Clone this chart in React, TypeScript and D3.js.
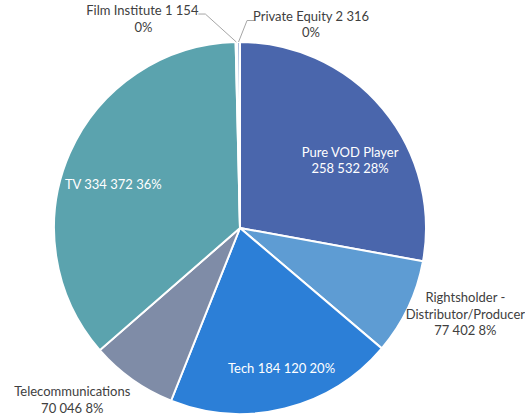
import React from 'react';
import * as d3 from 'd3';

const categories = ['Pure VOD Player', 'Rightsholder - Distributor/Producer', 'Tech', 'Telecommunications', 'TV', 'Film Institute', 'Private Equity'];
const values = [258532, 77402, 184120, 70046, 334372, 1154, 2316];
const colors = ['#4a66ac', '#5e9cd3', '#2c7fd7', '#7f8ca7', '#5ba3ae', '#a9c4e4', '#9fb3d6'];

// how each label is split into lines
const labelLines = [
  ['Pure VOD Player', '{v} {p}'],
  ['Rightsholder -', 'Distributor/Producer', '{v} {p}'],
  ['Tech {v} {p}'],
  ['Telecommunications', '{v} {p}'],
  ['TV {v} {p}'],
  ['Film Institute {v}', '{p}'],
  ['Private Equity {v}', '{p}'],
];

// label placement relative to the slice (centroid at r * R, then nudged)
const labelLayout: any[] = [
  { r: 0.68, dx: 13, dy: 10, inside: true },
  { r: 1.15, dx: 32, dy: -17, inside: false },
  { r: 0.68, dx: 11, dy: 22, inside: true },
  { r: 1.15, dx: -44, dy: -6, inside: false },
  { r: 0.68, dx: -11, dy: 12, inside: true },
  // tiny slices: placed from the rim point, with a leader line
  { r: 1, dx: -94, dy: -27, inside: false, leader: [[-31, -28], [-38, -28]], line2dx: 1 },
  { r: 1, dx: 72.5, dy: -21.5, inside: false, leader: [[8.5, -21.5], [15.5, -21.5]] },
];

const W = 525, H = 416;
const cx = 240, cy = 228, R = 186;

const fmt = (n: number) => d3.format(',')(n).replace(/,/g, ' ');

export default function App() {
  const total = d3.sum(values);
  const data = categories.map((c, i) => ({ c, v: values[i], i }));
  const pie = d3.pie<any>().sort(null).value(d => d.v).startAngle(0).endAngle(2 * Math.PI);
  const arcs = pie(data);
  const arc = d3.arc<any>().innerRadius(0).outerRadius(R);

  return (
    <svg width={W} height={H} style={{ position: 'absolute', left: 0, top: 0, fontFamily: 'Lato, sans-serif' }}>
      <rect width={W} height={H} fill="#fff" />
      <g transform={`translate(${cx},${cy})`}>
        {arcs.map((a, i) => (
          <path key={i} d={arc(a) as string} fill={colors[i]} stroke="#fff" strokeWidth={2} />
        ))}
        {arcs.map((a, i) => {
          const lay = labelLayout[i];
          const c = d3.arc<any>().innerRadius(R * lay.r).outerRadius(R * lay.r).centroid(a);
          const x = c[0] + lay.dx;
          const y = c[1] + lay.dy;
          const pct = Math.round((a.data.v / total) * 100) + '%';
          const lines = labelLines[i].map(s => s.replace('{v}', fmt(a.data.v)).replace('{p}', pct));
          const leader = lay.leader
            ? [c, ...lay.leader.map((p: number[]) => [c[0] + p[0], c[1] + p[1]])]
            : null;
          return (
            <g key={'l' + i}>
              {leader && (
                <polyline
                  points={leader.map(p => p.join(',')).join(' ')}
                  fill="none"
                  stroke="#a6a6a6"
                  strokeWidth={1}
                />
              )}
              <text
                x={x}
                y={y}
                textAnchor="middle"
                fontSize={13}
                fill={lay.inside ? '#fff' : '#404040'}
              >
                {lines.map((l, k) => (
                  <tspan key={k} x={x + (k > 0 && lay.line2dx ? lay.line2dx : 0)} dy={k === 0 ? 0 : 16.5}>{l}</tspan>
                ))}
              </text>
            </g>
          );
        })}
      </g>
    </svg>
  );
}
